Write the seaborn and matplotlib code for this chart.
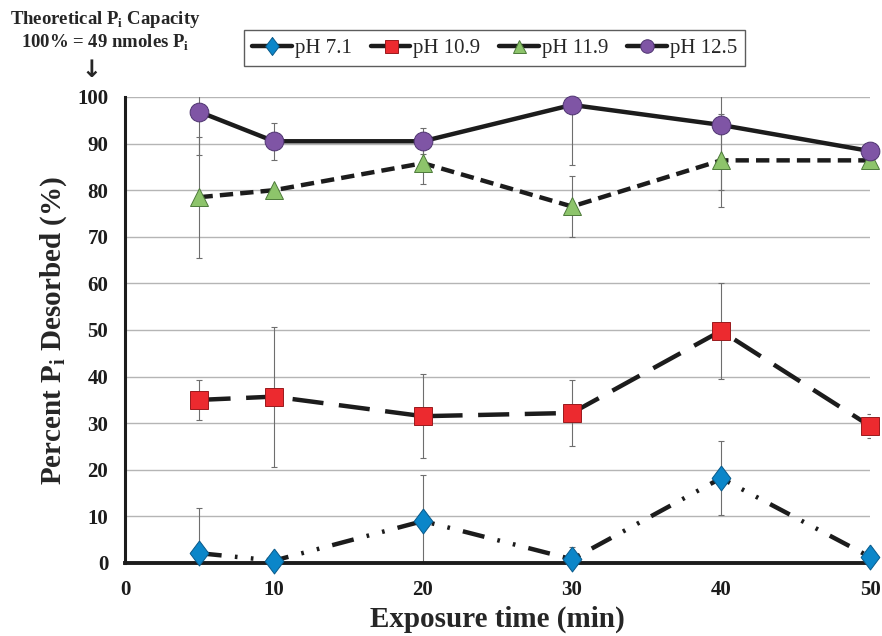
import numpy as np
import pandas as pd
import matplotlib
matplotlib.use("Agg")
import matplotlib.pyplot as plt
from matplotlib.lines import Line2D
import seaborn as sns

sns.set_style("white")
plt.rcParams["font.family"] = ["Liberation Serif", "DejaVu Serif"]
plt.rcParams["mathtext.fontset"] = "custom"
plt.rcParams["mathtext.rm"] = "Liberation Serif"
plt.rcParams["mathtext.bf"] = "Liberation Serif:bold"

# DATA
# ====================================
time = [5, 10, 20, 30, 40, 50]
series = ["pH 7.1", "pH 10.9", "pH 11.9", "pH 12.5"]

ph71 = [2.1, 0.5, 9.0, 0.8, 18.2, 1.3]
ph71_err = [9.7, 0.0, 9.8, 2.6, 8.0, 0.0]
ph109 = [35.0, 35.7, 31.5, 32.2, 49.8, 29.4]
ph109_err = [4.3, 15.0, 9.0, 7.0, 10.3, 2.6]
ph119 = [78.5, 80.0, 85.8, 76.5, 86.4, 86.4]
ph119_err = [13.0, 0.0, 4.5, 6.6, 10.0, 0.0]
ph125 = [96.8, 90.5, 90.5, 98.3, 94.0, 88.4]
ph125_err = [9.3, 4.0, 2.8, 13.0, 14.0, 0.0]

values = [ph71, ph109, ph119, ph125]
errors = [ph71_err, ph109_err, ph119_err, ph125_err]

# styles
diamond = [(0, 1), (0.75, 0), (0, -1), (-0.75, 0), (0, 1)]
colors = {"pH 7.1": "#0b86c9", "pH 10.9": "#ec2a2f",
          "pH 11.9": "#8dc46b", "pH 12.5": "#7f55a5"}
edges = {"pH 7.1": "#0a5a8a", "pH 10.9": "#9a1a1d",
         "pH 11.9": "#4d7a3a", "pH 12.5": "#4e3470"}
markers = {"pH 7.1": diamond, "pH 10.9": "s", "pH 11.9": "^", "pH 12.5": "o"}
msizes = {"pH 7.1": 18, "pH 10.9": 13, "pH 11.9": 13, "pH 12.5": 13.5}
dashes = {"pH 7.1": (5, 3, 0.6, 3, 0.6, 3), "pH 10.9": (7, 3.5),
          "pH 11.9": (3, 1.6), "pH 12.5": ""}

df = pd.DataFrame({
    "time": np.tile(time, len(series)),
    "series": np.repeat(series, len(time)),
    "value": np.concatenate(values),
    "err": np.concatenate(errors),
})

# PLOT
# ====================================
fig = plt.figure(figsize=(8.82, 6.36), dpi=100)
ax = fig.add_axes([0.1417, 0.1148, 0.8447, 0.7327])

for y in range(10, 101, 10):
    ax.axhline(y, color="#b5b5b5", lw=1.0, zorder=0)

for s in series:
    d = df[df["series"] == s]
    e = d[d["err"] > 0]
    ax.errorbar(e["time"], e["value"], yerr=e["err"], fmt="none",
                ecolor="#6e6e6e", elinewidth=0.8, capsize=2.5,
                capthick=0.8, zorder=2)

sns.lineplot(data=df, x="time", y="value", style="series",
             dashes=dashes, color="#1c1c1c", linewidth=3.2,
             legend=False, ax=ax, zorder=3, clip_on=False)

for s in series:
    d = df[df["series"] == s]
    ax.plot(d["time"], d["value"], linestyle="none", marker=markers[s],
            markersize=msizes[s], markerfacecolor=colors[s],
            markeredgecolor=edges[s], markeredgewidth=0.7,
            zorder=4, clip_on=False)

ax.set_xlim(0, 50)
ax.set_ylim(0, 100)
ax.set_xticks(range(0, 51, 10))
ax.set_yticks(range(0, 101, 10))
for sp in ["top", "right"]:
    ax.spines[sp].set_visible(False)
ax.spines["left"].set_linewidth(2.2)
ax.spines["bottom"].set_linewidth(2.8)
ax.spines["left"].set_color("#1c1c1c")
ax.spines["bottom"].set_color("#1c1c1c")
ax.tick_params(axis="both", direction="out", length=6, width=1.5,
               colors="#1c1c1c", labelsize=15, pad=6)
for lab in ax.get_xticklabels() + ax.get_yticklabels():
    lab.set_fontweight("bold")

ax.set_xlabel("Exposure time (min)", fontsize=21, fontweight="bold",
              labelpad=4)
ax.set_ylabel(r"Percent P$_\mathbf{i}$ Desorbed (%)", fontsize=21,
              fontweight="bold", labelpad=6)

handles = [Line2D([0], [0], color="#1c1c1c", lw=3.2,
                  marker=markers[s], markersize=msizes[s] * 0.72,
                  markerfacecolor=colors[s], markeredgecolor=edges[s],
                  markeredgewidth=0.7) for s in series]
leg = fig.legend(handles, series, loc="center", ncol=4,
                 bbox_to_anchor=(0.561, 0.924), frameon=True,
                 fancybox=False, edgecolor="#333333",
                 prop={"family": "Liberation Serif", "size": 15},
                 handlelength=1.9, handletextpad=0.15, columnspacing=0.9,
                 borderpad=0.4)
leg.get_frame().set_linewidth(1.0)

fig.text(0.119, 0.970, r"Theoretical P$_\mathbf{i}$ Capacity",
         ha="center", va="center", fontsize=13.5, fontweight="bold")
fig.text(0.119, 0.932, r"100% = 49 nmoles P$_\mathbf{i}$",
         ha="center", va="center", fontsize=13.5, fontweight="bold")
fig.text(0.104, 0.890, "\u2193", ha="center", va="center", fontsize=17,
         fontweight="bold", family=["DejaVu Sans"])

fig.savefig("out.png", dpi=100)
